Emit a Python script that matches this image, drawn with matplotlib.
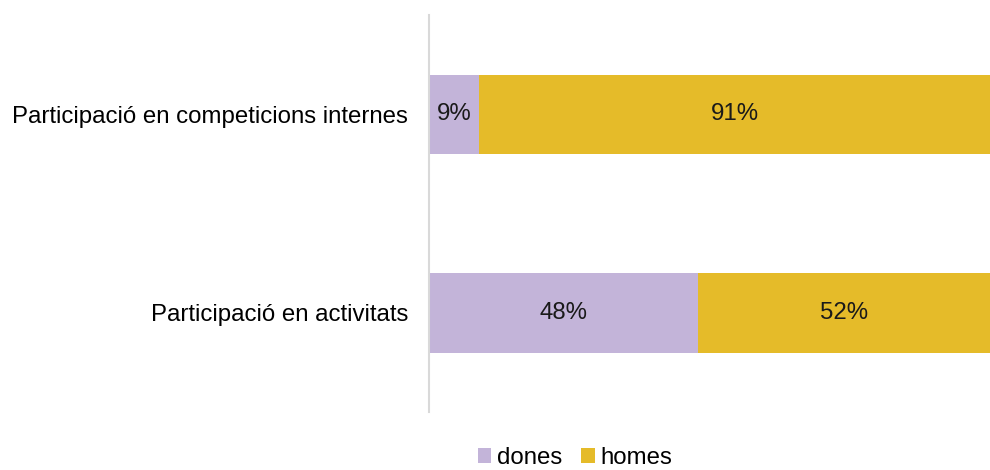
import matplotlib.pyplot as plt
import numpy as np

plt.rcParams["font.family"] = ["Liberation Sans", "DejaVu Sans"]

# data
categories = ["Participació en activitats", "Participació en competicions internes"]
dones = [48, 9]
homes = [52, 91]
series_names = ["dones", "homes"]
colors = ["#C3B4D9", "#E5BB29"]

fig = plt.figure(figsize=(9.9, 4.7), dpi=100)
ax = fig.add_axes([0.4333, 0.123, 0.5667, 0.845])

y = np.arange(len(categories))
b1 = ax.barh(y, dones, height=0.4, color=colors[0], label=series_names[0])
b2 = ax.barh(y, homes, left=dones, height=0.4, color=colors[1], label=series_names[1])

for bars in (b1, b2):
    for rect in bars:
        w = rect.get_width()
        ax.text(rect.get_x() + w / 2, rect.get_y() + rect.get_height() / 2,
                f"{w:.0f}%", ha="center", va="center", fontsize=17.3, color="#1a1a1a")

ax.set_xlim(0, 100)
ax.set_ylim(-0.5, 1.5)
ax.set_yticks(y)
ax.set_yticklabels(categories, fontsize=17.3)
ax.tick_params(axis="y", length=0, pad=15)
ax.set_xticks([])
for s in ["top", "right", "bottom"]:
    ax.spines[s].set_visible(False)
ax.spines["left"].set_color("#D9D9D9")
ax.spines["left"].set_linewidth(1.5)

fig.legend(loc="center", bbox_to_anchor=(0.581, 0.026), ncol=2, frameon=False,
           fontsize=17.3, handlelength=0.55, handleheight=0.55, handletextpad=0.25,
           columnspacing=0.8, borderaxespad=0)

fig.savefig("out.png", dpi=100)
